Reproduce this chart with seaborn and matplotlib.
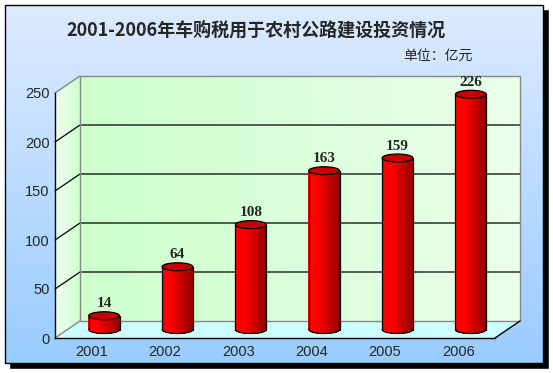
import numpy as np
import seaborn as sns
import matplotlib.pyplot as plt
import matplotlib.transforms as mtransforms
from matplotlib.patches import Polygon, Rectangle, Ellipse
from matplotlib.collections import PolyCollection

# data
years = ["2001", "2002", "2003", "2004", "2005", "2006"]
label_values = [14, 64, 108, 163, 159, 226]      # numbers printed above bars
bar_heights = [14, 64, 107, 162, 175, 240]       # heights as drawn in the picture
y_ticks = [0, 50, 100, 150, 200, 250]
title = "2001-2006年车购税用于农村公路建设投资情况"
unit = "单位：亿元"

W, H = 553, 373
DX, DY = 25, 17  # depth offset of back wall, pixels

sns.set_style("white")
fig = plt.figure(figsize=(W / 100, H / 100), dpi=100)
fig.patch.set_facecolor("white")

# background canvas in pixel coords (y up)
bg = fig.add_axes([0, 0, 1, 1], zorder=0)
bg.set_xlim(0, W)
bg.set_ylim(0, H)
bg.axis("off")

ax = fig.add_axes([55 / W, (H - 338) / H, 440 / W, 245 / H], zorder=1)
ax.set_facecolor("none")

sns.barplot(x=years, y=bar_heights, ax=ax, width=0.42, color="red")
ax.set_xlim(-0.5, 5.5)
ax.set_ylim(0, 250)


def grad_fill(pts, c0, c1, horizontal=True, z=1):
    pts = np.asarray(pts)
    x0, y0 = pts.min(axis=0)
    x1, y1 = pts.max(axis=0)
    t = np.linspace(0, 1, 128)
    c0, c1 = np.array(c0) / 255.0, np.array(c1) / 255.0
    row = c0[None, :] * (1 - t[:, None]) + c1[None, :] * t[:, None]
    img = row[None, :, :] if horizontal else row[:, None, :]
    im = bg.imshow(img, extent=[x0, x1, y0, y1], origin="lower",
                   aspect="auto", interpolation="bilinear", zorder=z)
    clip = Polygon(pts, closed=True, transform=bg.transData, facecolor="none", edgecolor="none")
    bg.add_patch(clip)
    im.set_clip_path(clip)


def px(x, y, depth=0.0):
    d = ax.transData.transform((x, y))
    return (d[0] + depth * DX, d[1] + depth * DY)


# panel with shadow
bg.add_patch(Rectangle((9, H - 369), 540, 360, facecolor="black", zorder=0.5))
panel = [(5, H - 5), (543, H - 5), (543, H - 363), (5, H - 363)]
grad_fill(panel, (153, 204, 255), (220, 235, 255), horizontal=False, z=0.6)
bg.add_patch(Polygon(panel, closed=True, facecolor="none", edgecolor="black", lw=1, zorder=0.7))

xl, xr = -0.5, 5.5
# back wall
back = [px(xl, 0, 1), px(xr, 0, 1), px(xr, 250, 1), px(xl, 250, 1)]
grad_fill(back, (204, 255, 204), (234, 255, 234), z=1)
# side wall
side = [px(xl, 0, 0), px(xl, 0, 1), px(xl, 250, 1), px(xl, 250, 0)]
grad_fill(side, (240, 255, 240), (204, 255, 204), z=1)
# floor
floor = [px(xl, 0, 0), px(xr, 0, 0), px(xr, 0, 1), px(xl, 0, 1)]
bg.add_patch(Polygon(floor, closed=True, facecolor="#ccffff", edgecolor="none", zorder=1))

# grid lines
for v in y_ticks[1:-1]:
    a, b, c = px(xl, v, 0), px(xl, v, 1), px(xr, v, 1)
    bg.plot([a[0], b[0], c[0]], [a[1], b[1], c[1]], color="black", lw=0.9, zorder=2)
# wall edges
bg.add_patch(Polygon(back, closed=True, facecolor="none", edgecolor="#888888", lw=1, zorder=2))
for p, q, col in [(px(xl, 250, 0), px(xl, 250, 1), "#888888"),
                  (px(xl, 0, 0), px(xl, 0, 1), "#888888"),
                  (px(xr, 0, 0), px(xr, 0, 1), "black")]:
    bg.plot([p[0], q[0]], [p[1], q[1]], color=col, lw=1, zorder=2)

# cylinders from seaborn bars, placed at mid depth
mid = mtransforms.offset_copy(ax.transData, fig=fig, x=DX / 2, y=DY / 2, units="dots")
eb = 4.0 / 0.98  # ellipse half height in data units
for patch, lab in zip(list(ax.patches), label_values):
    x0, w, h = patch.get_x(), patch.get_width(), patch.get_height()
    patch.remove()
    xc = x0 + w / 2
    n = 40
    xs = np.linspace(x0, x0 + w, n + 1)
    u = (xs - xc) / (w / 2)
    yb = -eb * np.sqrt(np.clip(1 - u ** 2, 0, 1))
    polys, cols = [], []
    for i in range(n):
        polys.append([(xs[i], yb[i]), (xs[i + 1], yb[i + 1]), (xs[i + 1], h), (xs[i], h)])
        t = (i + 0.5) / n
        r = 1.0 if t < 0.3 else 1.0 - 0.42 * (t - 0.3) / 0.7
        cols.append((r, 0, 0))
    pc = PolyCollection(polys, facecolors=cols, edgecolors="none", lw=0,
                        antialiased=False, transform=mid, zorder=3)
    ax.add_collection(pc)
    ax.plot(xs, yb, color="black", lw=0.9, transform=mid, zorder=4, clip_on=False)
    ax.plot([x0, x0], [0, h], color="black", lw=0.9, transform=mid, zorder=4, clip_on=False)
    ax.plot([x0 + w, x0 + w], [0, h], color="black", lw=0.9, transform=mid, zorder=4, clip_on=False)
    ax.add_patch(Ellipse((xc, h), w, 2 * eb, facecolor="#c40000", edgecolor="black",
                         lw=0.9, transform=mid, zorder=5, clip_on=False))
    ax.text(xc, h + eb + 1.5, str(lab), transform=mid, ha="center", va="bottom",
            fontsize=11, fontweight="bold", family="Liberation Serif", zorder=6, clip_on=False)

# axes styling
for s in ["top", "right"]:
    ax.spines[s].set_visible(False)
for s in ["left", "bottom"]:
    ax.spines[s].set_color("black")
    ax.spines[s].set_linewidth(1)
ax.set_yticks(y_ticks)
ax.set_xticks(range(len(years)))
ax.set_xticklabels(years)
ax.set_xticks([0.5, 1.5, 2.5, 3.5, 4.5], minor=True)
ax.tick_params(axis="x", which="major", length=0, pad=5, labelsize=10.5)
ax.tick_params(axis="x", which="minor", direction="in", length=5, width=1, color="black")
ax.tick_params(axis="y", direction="out", length=2, width=1, pad=2, labelsize=10.5, color="black")
for lbl in ax.get_xticklabels() + ax.get_yticklabels():
    lbl.set_family("Liberation Sans")
ax.set_xlabel("")
ax.set_ylabel("")

fig.text(66 / W, 1 - 30 / H, title, ha="left", va="center", fontsize=13, fontweight="bold",
         family=["Noto Sans CJK SC", "DejaVu Sans"])
fig.text(403 / W, 1 - 56 / H, unit, ha="left", va="center", fontsize=10,
         family=["Noto Sans CJK SC", "DejaVu Sans"])

fig.savefig("out.png", dpi=100)
